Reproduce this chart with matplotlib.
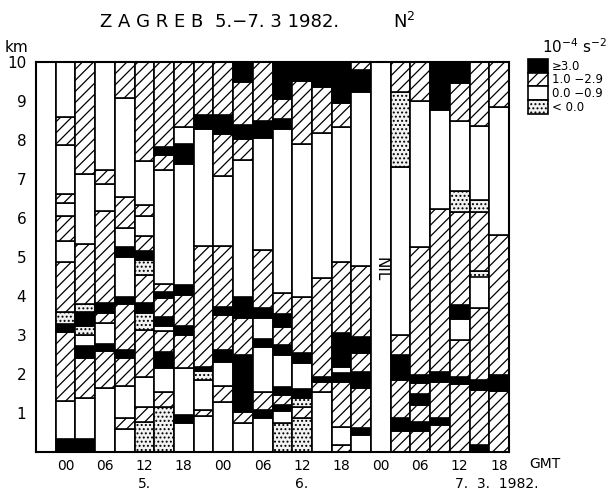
import matplotlib
matplotlib.use("Agg")
import matplotlib.pyplot as plt
from matplotlib.patches import Patch

# N^2 classes per 3-hourly sounding, Zagreb 5.-7. 3. 1982
# B: >= 3.0, H: 1.0-2.9, W: 0.0-0.9, D: < 0.0 (1e-4 s^-2)
# each column: layer boundaries in km (bottom -> top) and class of each layer
bounds = [
    [0, 10],
    [0, 0.33, 1.3, 3.08, 3.27, 3.6, 4.86, 5.4, 6.06, 6.38, 6.62, 7.87, 8.59, 10],
    [0, 0.33, 1.38, 2.4, 2.72, 3.0, 3.23, 3.6, 3.8, 5.33, 7.13, 10],
    [0, 1.65, 2.6, 2.77, 3.3, 3.56, 3.81, 6.19, 6.88, 7.22, 10],
    [0, 0.6, 0.86, 1.68, 2.4, 2.62, 3.8, 3.98, 5.0, 5.25, 5.74, 6.55, 9.08, 10],
    [0, 0.78, 1.16, 1.92, 3.12, 3.56, 3.81, 4.54, 4.93, 5.15, 5.54, 6.04, 6.34, 7.47, 10],
    [0, 1.16, 1.55, 2.15, 2.57, 3.09, 3.23, 3.47, 3.94, 4.11, 4.32, 7.24, 7.61, 7.81, 10],
    [0, 0.75, 0.95, 2.15, 3.0, 3.23, 4.02, 4.28, 7.38, 7.9, 8.33, 10],
    [0, 0.93, 1.08, 1.85, 2.08, 2.18, 5.27, 8.28, 8.64, 10],
    [0, 1.29, 1.69, 2.32, 2.62, 3.51, 3.73, 5.27, 7.08, 8.15, 8.63, 10],
    [0, 0.75, 1.03, 2.49, 3.43, 3.98, 7.49, 8.02, 8.38, 9.49, 10],
    [0, 0.86, 1.08, 1.55, 2.7, 2.91, 3.44, 3.68, 5.18, 8.06, 8.49, 10],
    [0, 0.75, 1.06, 1.2, 1.46, 1.66, 2.49, 2.74, 3.2, 3.54, 4.07, 8.27, 8.55, 9.06, 10],
    [0, 0.86, 1.16, 1.38, 1.61, 2.27, 2.53, 3.98, 7.89, 9.51, 10],
    [0, 1.55, 1.8, 1.93, 4.45, 8.19, 9.35, 10],
    [0, 0.18, 0.65, 1.8, 2.02, 2.19, 3.04, 4.88, 8.34, 8.95, 10],
    [0, 0.44, 0.61, 1.63, 2.06, 2.53, 2.96, 4.77, 9.23, 9.8, 10],
    [0, 10],
    [0, 0.55, 0.86, 1.85, 2.5, 3.0, 7.3, 9.23, 10],
    [0, 0.55, 0.78, 1.2, 1.49, 1.78, 1.97, 5.26, 9.0, 10],
    [0, 0.69, 0.86, 1.8, 2.06, 6.22, 8.78, 10],
    [0, 1.74, 1.93, 2.87, 3.4, 3.77, 6.16, 6.7, 8.49, 9.45, 10],
    [0, 0.18, 1.59, 1.85, 3.68, 4.5, 4.65, 6.15, 6.47, 8.36, 10],
    [0, 1.57, 1.97, 5.57, 8.85, 10],
]
classes = [
    "W", "BWHBDHWHWHWHW", "BWHBWDBDHWH", "WHBWHBHWHW", "WHWHBHBWBWHWH",
    "DHWHDBHDBHWHWH", "DHWBHWBHBHWHBH", "WBWHBHBWBWH", "WHWDBHWBH",
    "WHWBHBHWHBH", "WHBHBWHBHB", "WBHWBWBHWBH", "DWBHBWBHBHWBHB",
    "DHDBWBHWHB", "WHBHWHB", "HWHBWBHWHB", "WBHBHBHWBH", "W",
    "HBHBHWDH", "HBHBHBHWH", "HBHBHWB", "HBHWBHDWHB", "BHBHWDHDWH", "HBHWH",
]
nil_column = 17
tick_pos = [1, 3, 5, 7, 9, 11, 13, 15, 17, 19, 21, 23]
tick_labels = ["00", "06", "12", "18"] * 3
legend_labels = ["\u22653.0", "1.0 \u22122.9", "0.0 \u22120.9", "< 0.0"]

style = {
    "B": dict(facecolor="black", hatch=None),
    "H": dict(facecolor="white", hatch="///"),
    "W": dict(facecolor="white", hatch=None),
    "D": dict(facecolor="#f2f2f2", hatch="...."),
}

plt.rcParams["hatch.linewidth"] = 0.9
plt.rcParams["font.family"] = ["DejaVu Sans"]

fig = plt.figure(figsize=(6.13, 4.9), dpi=100)
ax = fig.add_axes([36 / 613, 38 / 490, 473 / 613, 390 / 490])

for i in range(len(bounds)):
    b = bounds[i]
    for j, c in enumerate(classes[i]):
        ax.bar(i, b[j + 1] - b[j], bottom=b[j], width=1, edgecolor="black",
               linewidth=1.2, **style[c])

ax.text(nil_column, 4.7, "NIL", rotation=270, ha="center", va="center", fontsize=11)

ax.set_xlim(-0.5, len(bounds) - 0.5)
ax.set_ylim(0, 10)
ax.set_yticks(range(1, 11))
ax.set_yticklabels([str(v) for v in range(1, 11)], fontsize=11)
ax.set_xticks(tick_pos)
ax.set_xticklabels(tick_labels, fontsize=10)
ax.tick_params(axis="x", length=0, pad=5)
ax.tick_params(axis="y", length=0, pad=7)
for s in ax.spines.values():
    s.set_linewidth(1.5)

# day labels under the time axis
day_y = -0.082
ax.text(5, day_y, "5.", transform=ax.get_xaxis_transform(), ha="center", va="center", fontsize=10)
ax.text(13, day_y, "6.", transform=ax.get_xaxis_transform(), ha="center", va="center", fontsize=10)
ax.text(20.75, day_y, "7.  3.  1982.", transform=ax.get_xaxis_transform(), ha="left", va="center", fontsize=10)

fig.text(545 / 613, 1 - 464 / 490, "GMT", ha="center", va="center", fontsize=10)
fig.text(17 / 613, 1 - 47 / 490, "km", ha="center", va="center", fontsize=11)

fig.text(152 / 613, 1 - 22 / 490, "Z A G R E B", ha="center", va="center", fontsize=13)
fig.text(277 / 613, 1 - 22 / 490, "5.\u22127. 3 1982.", ha="center", va="center", fontsize=13)
fig.text(404 / 613, 1 - 22 / 490, "N$^2$", ha="center", va="center", fontsize=13)

fig.text(575 / 613, 1 - 47 / 490, "10$^{-4}$ s$^{-2}$", ha="center", va="center", fontsize=11)
handles = [Patch(edgecolor="black", linewidth=1.2, **style[c]) for c in "BHWD"]
fig.legend(handles, legend_labels, loc="upper left", bbox_to_anchor=(528 / 613, 1 - 59 / 490),
           frameon=False, fontsize=8.5, handlelength=1.7, handleheight=1.4,
           labelspacing=0.0, handletextpad=0.35, borderpad=0, borderaxespad=0)

fig.savefig("out.png", dpi=100)
